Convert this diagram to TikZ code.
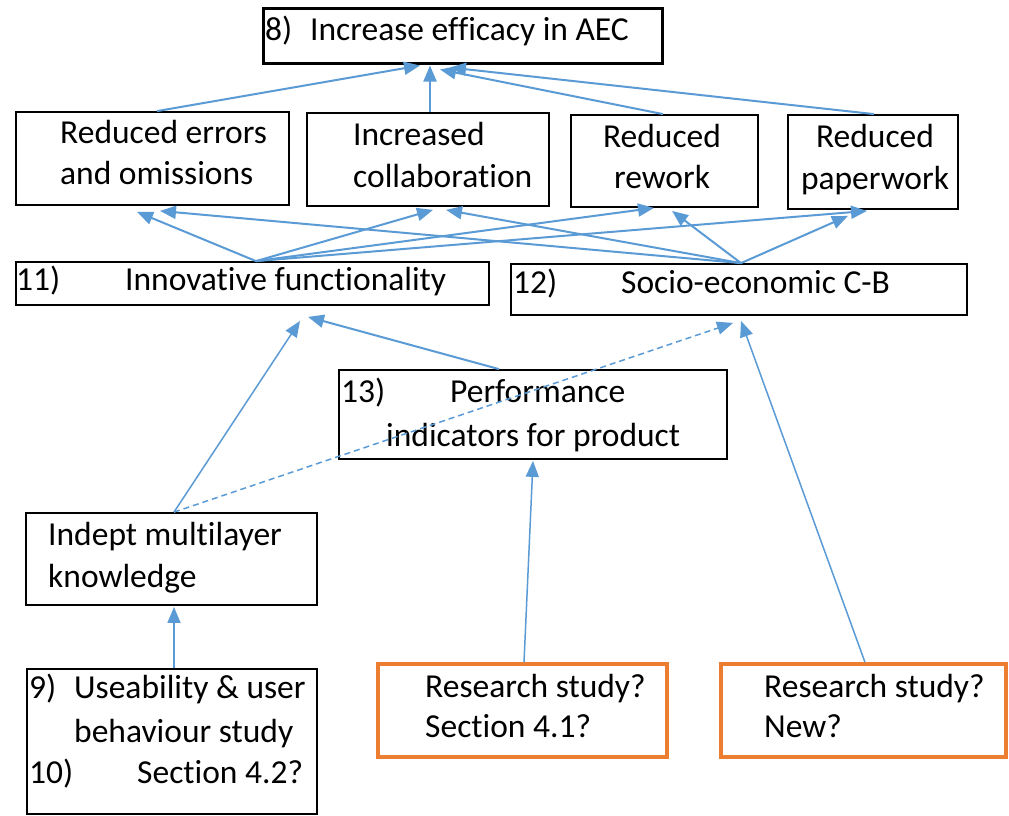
\documentclass[tikz,border=0pt]{standalone}
\usepackage{fontspec}
\setmainfont{Carlito}[Ligatures=NoCommon]
\usetikzlibrary{arrows.meta,calc}
\definecolor{linkblue}{HTML}{5B9BD5}
\definecolor{studyorange}{HTML}{ED7D31}
\begin{document}
\begin{tikzpicture}[x=1pt,y=-1pt,
  box/.style={draw=black,line width=1.8pt,inner sep=0pt},
  goalbox/.style={draw=black,line width=3pt,inner sep=0pt},
  studybox/.style={draw=studyorange,line width=3.4pt,inner sep=0pt},
  lbl/.style={inner sep=0pt,anchor=base west,font=\fontsize{33.5}{40}\selectfont},
  clbl/.style={inner sep=0pt,anchor=base,font=\fontsize{33.5}{40}\selectfont},
  arr/.style={draw=linkblue,line width=2pt,-{Triangle[length=16pt,width=13pt]}},
  thinarr/.style={draw=linkblue,line width=1.5pt,-{Triangle[length=16pt,width=13pt]}},
  dasharr/.style={draw=linkblue,line width=1.5pt,dash pattern=on 6pt off 4pt,-{Triangle[length=16pt,width=13pt]}}]
\useasboundingbox (0,0) rectangle (1009,815);
\fill[white] (0,0) rectangle (1009,815);

% boxes
\node[goalbox,minimum width=399pt,minimum height=55pt] (goal) at (462.5,35.5) {};
\node[box,minimum width=273pt,minimum height=93pt] (err) at (152.5,158.5) {};
\node[box,minimum width=242pt,minimum height=93pt] (col) at (428,159.5) {};
\node[box,minimum width=187pt,minimum height=92pt] (rew) at (664.5,161) {};
\node[box,minimum width=170pt,minimum height=94pt] (pap) at (873,162) {};
\node[box,minimum width=473pt,minimum height=43pt] (inn) at (252.5,283.5) {};
\node[box,minimum width=456pt,minimum height=51pt] (soc) at (739,289.5) {};
\node[box,minimum width=388pt,minimum height=89pt] (perf) at (533,414.5) {};
\node[box,minimum width=291pt,minimum height=92pt] (ind) at (171.5,559) {};
\node[box,minimum width=290pt,minimum height=145pt] (use) at (172,741.5) {};
\node[studybox,minimum width=289pt,minimum height=93pt] (rsa) at (522.5,710.5) {};
\node[studybox,minimum width=285pt,minimum height=93pt] (rsb) at (863.5,710.5) {};

% labels
\node[lbl] (t8n) at (265,40) {8)};
\node[lbl] (t8) at (310,40) {Increase efficacy in AEC};
\node[lbl] (terr1) at (60,143) {Reduced errors};
\node[lbl] (terr2) at (60,184) {and omissions};
\node[lbl] (tcol1) at (353,145) {Increased};
\node[lbl] (tcol2) at (353,187) {collaboration};
\node[clbl] (trew1) at (662,147) {Reduced};
\node[clbl] (trew2) at (662,188) {rework};
\node[clbl] (tpap1) at (875,147) {Reduced};
\node[clbl] (tpap2) at (875,189) {paperwork};
\node[lbl] (t11n) at (16,290) {11)};
\node[lbl] (t11) at (125,290) {Innovative functionality};
\node[lbl] (t12n) at (513,293) {12)};
\node[lbl] (t12) at (621,293) {Socio-economic C-B};
\node[lbl] (t13n) at (341,402) {13)};
\node[lbl] (t13a) at (450,402) {Performance};
\node[lbl] (t13b) at (386,446) {indicators for product};
\node[lbl] (tind1) at (48,545) {Indept multilayer};
\node[lbl] (tind2) at (48,587) {knowledge};
\node[lbl] (t9n) at (29,698) {9)};
\node[lbl] (t9a) at (74,698) {Useability \& user};
\node[lbl] (t9b) at (74,742) {behaviour study};
\node[lbl] (t10n) at (29,783) {10)};
\node[lbl] (t10) at (137,783) {Section 4.2?};
\node[lbl] (trsa1) at (425,697) {Research study?};
\node[lbl] (trsa2) at (425,737) {Section 4.1?};
\node[lbl] (trsb1) at (764,697) {Research study?};
\node[lbl] (trsb2) at (764,737) {New?};

% benefits feeding the overall goal
\draw[arr] ($(err.north)+(4.5,0)$) -- ($(goal.south)+(-42.5,1)$);
\draw[arr] ($(col.north)+(2,0)$) -- ($(goal.south)+(-32.5,1)$);
\draw[arr] ($(rew.north)+(-1.5,0)$) -- ($(goal.south)+(-22.5,5)$);
\draw[arr] ($(pap.north)+(1,0)$) -- ($(goal.south)+(-12.5,3)$);

% functionality and cost-benefit feeding the benefits
\draw[arr] ($(inn.north)+(3.5,0)$) -- ($(err.south)+(-15.5,6)$);
\draw[arr] ($(inn.north)+(3.5,0)$) -- ($(col.south)+(5,3)$);
\draw[arr] ($(inn.north)+(3.5,0)$) -- ($(rew.south)+(-10.5,0)$);
\draw[arr] ($(inn.north)+(3.5,0)$) -- ($(pap.south)+(-6,1)$);
\draw[arr] ($(soc.north)+(2,0)$) -- ($(err.south)+(7.5,5)$);
\draw[arr] ($(soc.north)+(2,0)$) -- ($(col.south)+(18,3)$);
\draw[arr] ($(soc.north)+(2,0)$) -- ($(rew.south)+(7.5,3)$);
\draw[arr] ($(soc.north)+(2,0)$) -- ($(pap.south)+(-25,6)$);

% lower layers
\draw[thinarr] ($(ind.north)+(2.5,0)$) -- ($(inn.south)+(47.5,15)$);
\draw[arr] ($(perf.north)+(-34,0)$) -- ($(inn.south)+(55.5,11)$);
\draw[dasharr] ($(ind.north)+(2.5,0)$) -- ($(soc.south)+(-6,7)$);
\draw[thinarr] ($(rsb.north)+(1.5,0)$) -- ($(soc.south)+(2,5)$);
\draw[thinarr] ($(rsa.north)+(1.5,0)$) -- ($(perf.south)+(0,1)$);
\draw[thinarr] ($(use.north)+(2,0)$) -- ($(ind.south)+(2.5,1)$);
\end{tikzpicture}
\end{document}
